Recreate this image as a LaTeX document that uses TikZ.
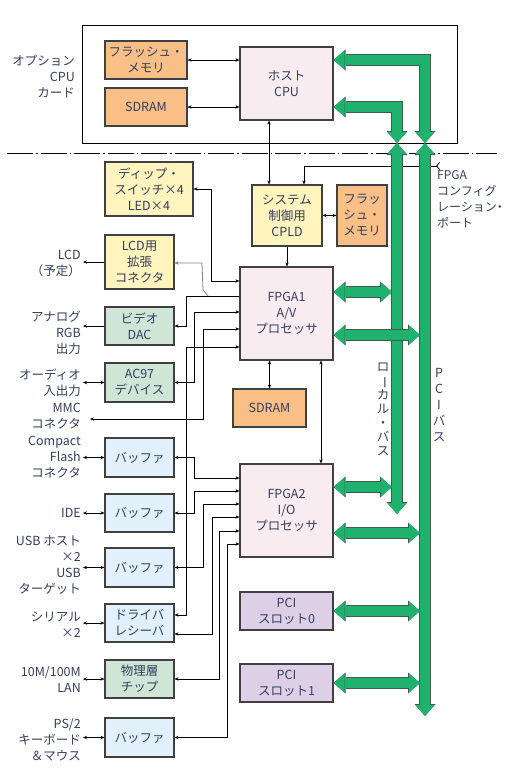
\documentclass[tikz,border=0pt]{standalone}
\usepackage{fontspec}
\setmainfont{Noto Sans CJK JP}
\usepackage{graphicx}
\usetikzlibrary{arrows.meta}

\definecolor{flashorange}{RGB}{249,191,135}
\definecolor{cpupink}{RGB}{249,236,240}
\definecolor{ctlyellow}{RGB}{255,243,190}
\definecolor{devgreen}{RGB}{207,230,214}
\definecolor{bufblue}{RGB}{225,240,251}
\definecolor{slotlilac}{RGB}{221,208,230}
\definecolor{busgreen}{RGB}{30,178,110}
\definecolor{busedge}{RGB}{62,92,74}
\definecolor{labeltext}{RGB}{52,62,92}

\tikzset{
    box/.style = {draw = black!75, line width = 1.1pt, align = center, inner sep = 0pt,
        text = labeltext, font = \fontsize{12.5pt}{16pt}\selectfont},
    lbl/.style = {align = right, anchor = east, inner xsep = 2pt, inner ysep = 0pt,
        text = labeltext, font = \fontsize{12.5pt}{16pt}\selectfont},
    vlbl/.style = {align = center, inner sep = 0pt, text = labeltext},
    wire/.style = {line width = .8pt},
    bus/.style = {line width = 10pt, draw = busgreen, line join = miter,
        {Triangle[width = 19pt, length = 11pt, line width = 0pt]}-{Triangle[width = 19pt, length = 11pt, line width = 0pt]},
        preaction = {draw = busedge, line width = 11.4pt, line join = miter,
            {Triangle[width = 21pt, length = 12pt, line width = 0pt]}-{Triangle[width = 21pt, length = 12pt, line width = 0pt]}}},
}

\begin{document}
\begin{tikzpicture}[x = 1pt, y = -1pt, >={Stealth[length = 4pt, width = 3.4pt]}]
    \useasboundingbox (0,0) rectangle (507,769);

    % Draw the option CPU card:
    \draw [line width = .9pt] (82,25) rectangle (457,143);
    \node [lbl] (optl) at (77,77) {オプション\\CPU\\カード};
    \node [box, fill = flashorange, minimum width = 82pt, minimum height = 38pt] (flashA) at (146,60) {フラッシュ・\\メモリ};
    \node [box, fill = flashorange, minimum width = 82pt, minimum height = 38pt] (sdramA) at (146,107) {SDRAM};
    \node [box, fill = cpupink, minimum width = 93pt, minimum height = 73pt] (host) at (286.5,83.5) {ホスト\\CPU};

    \draw [line width = .8pt, dash pattern = on 26pt off 3pt on 1.5pt off 3pt] (7,153) -- (497,153);

    % Draw the main board blocks:
    \node [box, fill = ctlyellow, minimum width = 88pt, minimum height = 54pt] (dip) at (149,189) {ディップ・\\スイッチ×4\\LED×4};
    \node [box, fill = ctlyellow, minimum width = 70pt, minimum height = 61pt] (cpld) at (287,215.5) {システム\\制御用\\CPLD};
    \node [box, fill = flashorange, minimum width = 50pt, minimum height = 61pt] (flashB) at (362,215.5) {フラッ\\シュ・\\メモリ};
    \node [box, fill = ctlyellow, minimum width = 69pt, minimum height = 54pt] (lcdc) at (139.5,262) {LCD用\\拡張\\コネクタ};
    \node [box, fill = cpupink, minimum width = 93pt, minimum height = 93pt] (fpga1) at (286.5,313.5) {FPGA1\\A/V\\プロセッサ};
    \node [box, fill = devgreen, minimum width = 69pt, minimum height = 38pt] (dac) at (139.5,326) {ビデオ\\DAC};
    \node [box, fill = devgreen, minimum width = 69pt, minimum height = 39pt] (ac97) at (139.5,382.5) {AC97\\デバイス};
    \node [box, fill = flashorange, minimum width = 73pt, minimum height = 38pt] (sdramB) at (269.5,408) {SDRAM};
    \node [box, fill = bufblue, minimum width = 69pt, minimum height = 39pt] (bufcf) at (139.5,457.5) {バッファ};
    \node [box, fill = bufblue, minimum width = 69pt, minimum height = 38pt] (bufide) at (139.5,513) {バッファ};
    \node [box, fill = cpupink, minimum width = 93pt, minimum height = 93pt] (fpga2) at (286.5,510.5) {FPGA2\\I/O\\プロセッサ};
    \node [box, fill = bufblue, minimum width = 69pt, minimum height = 39pt] (bufusb) at (139.5,567.5) {バッファ};
    \node [box, fill = bufblue, minimum width = 69pt, minimum height = 38pt] (drv) at (139.5,623) {ドライバ\\レシーバ};
    \node [box, fill = devgreen, minimum width = 69pt, minimum height = 38pt] (phy) at (139.5,679) {物理層\\チップ};
    \node [box, fill = bufblue, minimum width = 69pt, minimum height = 39pt] (bufps2) at (139.5,737.5) {バッファ};
    \node [box, fill = slotlilac, minimum width = 93pt, minimum height = 38pt] (pci0) at (286.5,611) {PCI\\スロット0};
    \node [box, fill = slotlilac, minimum width = 93pt, minimum height = 38pt] (pci1) at (286.5,683) {PCI\\スロット1};

    % Draw the outside labels:
    \node [lbl] (lcdl) at (83,263) {LCD\\（予定）};
    \node [lbl] (rgbl) at (83,333) {アナログ\\RGB\\出力};
    \node [lbl] (audl) at (83,383) {オーディオ\\入出力};
    \node [lbl] (mmcl) at (83,416.5) {MMC\\コネクタ};
    \node [lbl] (cfl) at (83,457) {Compact\\Flash\\コネクタ};
    \node [lbl] (idel) at (83,513) {IDE};
    \node [lbl] (usbl) at (83,565) {USB ホスト\\×2\\USB\\ターゲット};
    \node [lbl] (serl) at (83,625) {シリアル\\×2};
    \node [lbl] (lanl) at (83,680) {10M/100M\\LAN};
    \node [lbl] (ps2l) at (83,740) {PS/2\\キーボード\\＆マウス};
    \node [lbl, anchor = north west, align = left, font = \fontsize{12pt}{16pt}\selectfont] (cfgl) at (435,170)
        {FPGA\\コンフィグ\\レーション\makebox[6pt][c]{・}\\ポート};

    % Draw the small connectors:
    \draw [wire, <->] (flashA.east) -- (host.west |- flashA.east);
    \draw [wire, <->] (sdramA.east) -- (host.west |- sdramA.east);
    \draw [wire, <->] (host.south -| 269,0) -- (cpld.north -| 269,0);
    \coordinate (cfgend) at (440,166);
    \draw [wire, {Straight Barb[reversed, length = 3pt, width = 7pt]}->] (cfgend) -| (cpld.north -| 304,0);
    \draw [wire, <->] (cpld.east) -- (flashB.west);
    \draw [wire, ->] (cpld.south) -- (cpld.south |- fpga1.north);
    \draw [wire, <->] (fpga1.south -| sdramB.north) -- (sdramB.north);
    \draw [wire, <->] (fpga1.south -| 321,0) -- (fpga2.north -| 321,0);

    \draw [wire, <->] (dip.east) -- (211,189) |- (fpga1.west |- 0,281);
    \coordinate (lcdtap) at (208,296);
    \draw [wire, gray, ->] (lcdtap) -- (203,290) -- (202,263) -- (lcdc.east |- 0,263);
    \draw [wire, ->] (fpga1.west |- 0,296) -| (186,326) -- (dac.east);
    \draw [wire, <->] (fpga1.west |- 0,312) -| (194,382.5) -- (ac97.east);
    \coordinate (mmcend) at (90,419);
    \draw [wire, <->] (fpga1.west |- 0,329) -| (203,419) -- (mmcend);
    \draw [wire, <->] (fpga1.west |- 0,347) -| (186,615) -- (drv.east |- 0,615);
    \draw [wire, <->] (bufcf.east) -- (194,457.5) |- (fpga2.west |- 0,478);
    \draw [wire, <->] (bufide.east) -- (194,513) |- (fpga2.west |- 0,491);
    \draw [wire, <->] (bufusb.east) -- (203,567.5) |- (fpga2.west |- 0,504);
    \draw [wire, <->] (drv.east |- 0,634) -- (212,634) |- (fpga2.west |- 0,517);
    \draw [wire, <->] (phy.east) -- (219,679) |- (fpga2.west |- 0,531);
    \draw [wire, <->] (bufps2.east) -- (227,737.5) |- (fpga2.west |- 0,544);

    \draw [wire, ->] (lcdc.west) -- (lcdl.east |- lcdc.west);
    \draw [wire, ->] (dac.west) -- (rgbl.east |- dac.west);
    \draw [wire, <->] (ac97.west) -- (audl.east |- ac97.west);
    \draw [wire, <->] (bufcf.west) -- (cfl.east |- bufcf.west);
    \draw [wire, <->] (bufide.west) -- (idel.east |- bufide.west);
    \draw [wire, <->] (bufusb.west) -- (usbl.east |- bufusb.west);
    \draw [wire, <->] (drv.west) -- (serl.east |- drv.west);
    \draw [wire, <->] (phy.west) -- (lanl.east |- phy.west);
    \draw [wire, <->] (bufps2.west) -- (ps2l.east |- bufps2.west);

    % Draw the buses:
    \coordinate (lbtop) at (397,143);
    \coordinate (lbbot) at (397,514);
    \coordinate (pbtop) at (425,143);
    \coordinate (pbbot) at (425,716);
    \coordinate (lbx) at (392,0);
    \coordinate (pbx) at (420,0);
    \draw [bus] (host.east |- 0,60) -| (pbtop);
    \draw [bus] (host.east |- 0,107) -| (lbtop);
    \draw [bus] (lbtop) -- (lbbot);
    \draw [bus] (pbtop) -- (pbbot);
    \draw [bus] (fpga1.east |- 0,292) -- (lbx |- 0,292);
    \draw [bus] (fpga1.east |- 0,335) -- (pbx |- 0,335);
    \draw [bus] (fpga2.east |- 0,487) -- (lbx |- 0,487);
    \draw [bus] (fpga2.east |- 0,533) -- (pbx |- 0,533);
    \draw [bus] (pci0.east) -- (pbx |- pci0.east);
    \draw [bus] (pci1.east) -- (pbx |- pci1.east);

    \node [vlbl, font = \fontsize{12.5pt}{14pt}\selectfont] (lbusl) at (383,409)
        {ロ\\\rotatebox[origin = c]{-90}{ー}\\カ\\ル\\・\\バ\\ス};
    \node [vlbl, font = \fontsize{12.5pt}{16pt}\selectfont] (pbusl) at (439,405)
        {P\\C\\I\\バ\\ス};
\end{tikzpicture}
\end{document}
